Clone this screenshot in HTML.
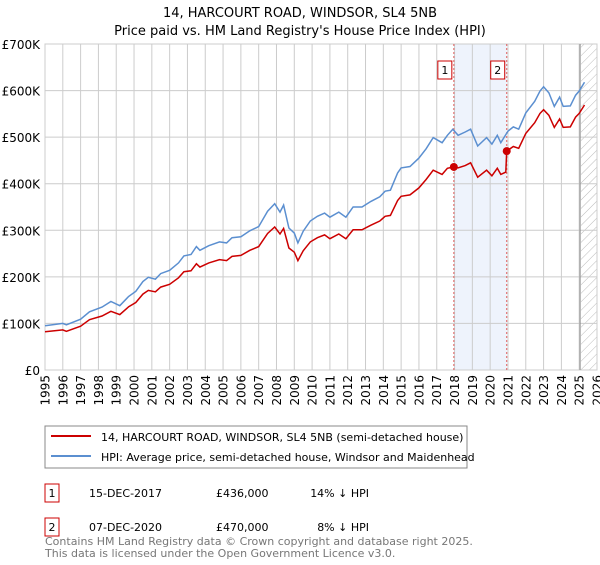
<!DOCTYPE html>
<html><head><meta charset="utf-8"><style>
body{margin:0;background:#fff;font-family:"Liberation Sans","DejaVu Sans",sans-serif}
svg text{font-family:"DejaVu Sans","Liberation Sans",sans-serif}
</style></head><body>
<svg id="c" width="600" height="560" xmlns="http://www.w3.org/2000/svg">
<defs><pattern id="hatch" width="6" height="6" patternUnits="userSpaceOnUse" patternTransform="rotate(45)"><line x1="0" y1="0" x2="0" y2="6" stroke="#bbb" stroke-width="1"/></pattern></defs>
<text x="300" y="17" text-anchor="middle" font-size="13">14, HARCOURT ROAD, WINDSOR, SL4 5NB</text>
<text x="300" y="35" text-anchor="middle" font-size="13">Price paid vs. HM Land Registry's House Price Index (HPI)</text>
<g id="plot"></g>
<rect x="45" y="426" width="422" height="42" fill="#fff" stroke="#888"/>
<line x1="51" y1="436" x2="91" y2="436" stroke="#cc0000" stroke-width="2"/>
<text x="101" y="441" font-size="11">14, HARCOURT ROAD, WINDSOR, SL4 5NB (semi-detached house)</text>
<line x1="51" y1="456" x2="91" y2="456" stroke="#5b8fd0" stroke-width="2"/>
<text x="101" y="461" font-size="11">HPI: Average price, semi-detached house, Windsor and Maidenhead</text>
<g font-size="11">
<rect x="45" y="484" width="14" height="18" fill="#fff" stroke="#cc0000"/>
<text x="52" y="497" text-anchor="middle">1</text>
<text x="89" y="497">15-DEC-2017</text>
<text x="216" y="497">£436,000</text>
<text x="369" y="497" text-anchor="end">14% ↓ HPI</text>
<rect x="45" y="518" width="14" height="18" fill="#fff" stroke="#cc0000"/>
<text x="52" y="531" text-anchor="middle">2</text>
<text x="89" y="531">07-DEC-2020</text>
<text x="216" y="531">£470,000</text>
<text x="369" y="531" text-anchor="end">8% ↓ HPI</text>
</g>
<text x="45" y="545" font-size="11" fill="#777">Contains HM Land Registry data © Crown copyright and database right 2025.</text>
<text x="45" y="557" font-size="11" fill="#777">This data is licensed under the Open Government Licence v3.0.</text>
</svg>
<script>
const hpiYears=[1995.0,1996.0,1996.2,1997.0,1997.5,1998.2,1998.7,1999.2,1999.7,2000.1,2000.5,2000.8,2001.2,2001.5,2002.0,2002.5,2002.8,2003.2,2003.5,2003.7,2004.2,2004.8,2005.2,2005.5,2006.0,2006.5,2007.0,2007.5,2007.9,2008.2,2008.4,2008.7,2009.0,2009.2,2009.5,2009.9,2010.3,2010.7,2011.0,2011.5,2011.9,2012.3,2012.8,2013.3,2013.8,2014.1,2014.4,2014.8,2015.0,2015.5,2016.0,2016.4,2016.8,2017.3,2017.6,2017.9,2018.2,2018.6,2018.9,2019.3,2019.8,2020.1,2020.4,2020.6,2021.0,2021.3,2021.6,2022.0,2022.5,2022.8,2023.0,2023.3,2023.6,2023.9,2024.1,2024.5,2024.8,2025.0,2025.3];
const hpiValues=[95,100,97,109,125,135,147,138,158,169,190,199,195,207,214,230,245,248,265,257,267,275,273,284,286,299,308,341,357,339,354,305,294,273,298,320,330,337,328,339,328,350,350,362,372,384,386,423,434,437,455,475,499,488,504,517,504,511,517,481,499,485,504,488,513,522,517,552,577,599,608,595,566,586,566,567,590,599,618];
const propYears=[1995.0,1996.0,1996.2,1997.0,1997.5,1998.2,1998.7,1999.2,1999.7,2000.1,2000.5,2000.8,2001.2,2001.5,2002.0,2002.5,2002.8,2003.2,2003.5,2003.7,2004.2,2004.8,2005.2,2005.5,2006.0,2006.5,2007.0,2007.5,2007.9,2008.2,2008.4,2008.7,2009.0,2009.2,2009.5,2009.9,2010.3,2010.7,2011.0,2011.5,2011.9,2012.3,2012.8,2013.3,2013.8,2014.1,2014.4,2014.8,2015.0,2015.5,2016.0,2016.4,2016.8,2017.3,2017.6,2017.96,2018.2,2018.6,2018.9,2019.3,2019.8,2020.1,2020.4,2020.6,2020.88,2020.93,2021.0,2021.3,2021.6,2022.0,2022.5,2022.8,2023.0,2023.3,2023.6,2023.9,2024.1,2024.5,2024.8,2025.0,2025.3];
const propValues=[82,86,83,94,108,116,126,119,136,145,163,171,168,178,184,198,211,213,228,221,230,237,235,244,246,257,265,293,307,292,304,262,253,235,256,275,284,290,282,292,282,301,301,311,320,330,332,364,373,376,391,409,429,420,433,436,434,439,445,414,429,417,433,420,425,470,472,480,476,508,531,551,559,547,521,539,521,522,543,551,569];
const saleYears=[2017.96,2020.93];
const saleValues=[436,470];
const saleLabels=["1","2"];
const yTicks=[0,100,200,300,400,500,600,700];
const yTickLabels=["£0","£100K","£200K","£300K","£400K","£500K","£600K","£700K"];
const xTicks=[1995,1996,1997,1998,1999,2000,2001,2002,2003,2004,2005,2006,2007,2008,2009,2010,2011,2012,2013,2014,2015,2016,2017,2018,2019,2020,2021,2022,2023,2024,2025,2026];

const L=45,R=597,T=44,B=370;
const x=y=>L+(y-1995)/(2026-1995)*(R-L);
const yy=v=>B-v/700*(B-T);
const ns="http://www.w3.org/2000/svg";
const g=document.getElementById('plot');
function mk(t,a,p){const e=document.createElementNS(ns,t);for(const k in a)e.setAttribute(k,a[k]);(p||g).appendChild(e);return e;}
let sh=mk('rect',{x:x(saleYears[0]),y:T,width:x(saleYears[1])-x(saleYears[0]),height:B-T,fill:'#eef3fc'});


let ht=mk('rect',{x:x(2025.1),y:T,width:R-x(2025.1),height:B-T,fill:'url(#hatch)'});


xTicks.forEach(t=>{
 const l=mk('line',{x1:x(t),x2:x(t),y1:T,y2:B,stroke:'#ccc','stroke-width':1});
 
 
 const tx=mk('text',{x:0,y:0,'text-anchor':'end','font-size':12,transform:'translate('+(x(t)+4.5)+','+(B+5)+') rotate(-90)'});
 
 
 tx.textContent=t;
});
yTicks.forEach((t,i)=>{
 const l=mk('line',{x1:L,x2:R,y1:yy(t),y2:yy(t),stroke:'#ccc','stroke-width':1});
 
 
 const tx=mk('text',{x:L-5,y:yy(t)+5,'text-anchor':'end','font-size':12});
 
 
 tx.textContent=yTickLabels[i];
});
let ax=mk('rect',{x:L,y:T,width:R-L,height:B-T,fill:'none',stroke:'#ccc'});


let vl=mk('line',{x1:x(2025.05),x2:x(2025.05),y1:T,y2:B,stroke:'#888'});


saleYears.forEach((s,i)=>{
 const l=mk('line',{x1:x(s),x2:x(s),y1:T,y2:B,stroke:'#e06060','stroke-dasharray':'2,2'});
 
 
 const r=mk('rect',{x:x(s)-16,y:T+17,width:14,height:18,fill:'#fff',stroke:'#cc0000'});
 
 
 const t=mk('text',{x:x(s)-9,y:T+30,'text-anchor':'middle','font-size':11});
 
 
 t.textContent=saleLabels[i];
});
const pts=(xs,vs)=>xs.map((a,i)=>x(a).toFixed(1)+','+yy(vs[i]).toFixed(1)).join(' ');
let hp=mk('polyline',{points:pts(hpiYears,hpiValues),fill:'none',stroke:'#5b8fd0','stroke-width':1.5});


let pp=mk('polyline',{points:pts(propYears,propValues),fill:'none',stroke:'#cc0000','stroke-width':1.5});


saleYears.forEach((s,i)=>{
 const c=mk('circle',{cx:x(s),cy:yy(saleValues[i]),r:4,fill:'#cc0000'});
 
 
});
</script>
</body></html>
